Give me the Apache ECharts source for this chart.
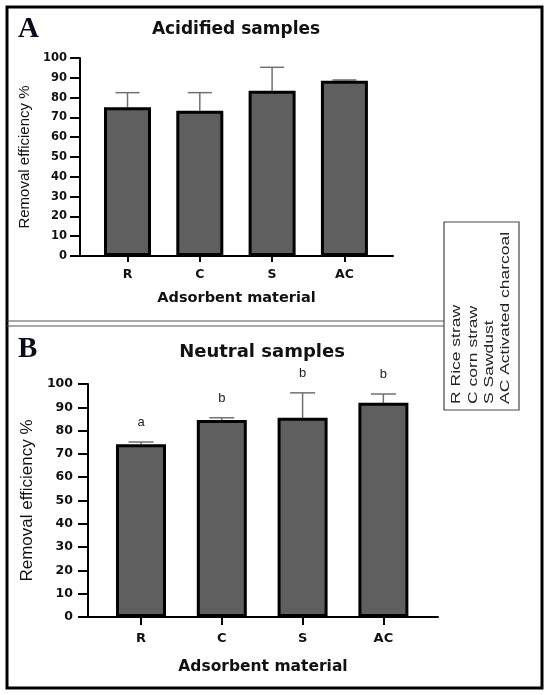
<!DOCTYPE html>
<html>
<head>
<meta charset="utf-8">
<script src="https://cdn.jsdelivr.net/npm/echarts@6/dist/echarts.min.js"></script>
<style>
html,body{margin:0;padding:0;background:#fff;}
#c{width:550px;height:695px;}
</style>
</head>
<body>
<div id="c"></div>
<script>
const categories = ['R', 'C', 'S', 'AC'];
const acidMeans = [75.1, 73.4, 83.5, 88.5];
const acidErrTop = [82.5, 82.5, 95.3, 88.9];
const neutralMeans = [74.1, 84.6, 85.5, 91.9];
const neutralErrTop = [75.1, 85.5, 96.2, 95.7];
const neutralLetters = ['a', 'b', 'b', 'b'];
const legendLines = ['R Rice straw', 'C corn straw', 'S Sawdust', 'AC Activated charcoal'];
const yMin = 0, yMax = 100, yStep = 10;

const FONT = 'Liberation Sans, Arial, sans-serif';
const BOLD = 'DejaVu Sans, Verdana, sans-serif';
const catIdx = categories.map((c, i) => i);

function errSeries(gridIdx, means, tops, letters, capW) {
  return {
    type: 'custom',
    xAxisIndex: gridIdx, yAxisIndex: gridIdx,
    z: 1,
    data: categories.map((c, i) => [i, means[i], tops[i], letters ? letters[i] : '']),
    encode: { x: 0, y: [1, 2] },
    renderItem: function (params, api) {
      const i = api.value(0);
      const b = api.coord([i, api.value(1)]);
      const t = api.coord([i, api.value(2)]);
      const children = [
        { type: 'line', shape: { x1: b[0], y1: b[1], x2: t[0], y2: t[1] }, style: { stroke: '#707070', lineWidth: 1.5 } },
        { type: 'line', shape: { x1: t[0] - capW / 2, y1: t[1], x2: t[0] + capW / 2, y2: t[1] }, style: { stroke: '#707070', lineWidth: 1.5 } }
      ];
      const lab = api.value(3);
      if (lab) {
        children.push({ type: 'text', x: t[0], y: t[1] - 13, style: { text: lab, fill: '#222', font: '13px ' + FONT, align: 'center', verticalAlign: 'bottom' } });
      }
      return { type: 'group', children: children };
    }
  };
}

function barSeries(gridIdx, means, w) {
  return {
    type: 'bar',
    xAxisIndex: gridIdx, yAxisIndex: gridIdx,
    barWidth: w,
    z: 2,
    data: categories.map((c, i) => [i, means[i]]),
    itemStyle: { color: '#5f5f5f', borderColor: '#000', borderWidth: 3 },
    silent: true
  };
}

function xAxisDef(gridIdx, min, max, fs, nfs, gap, tickLen, margin) {
  return {
    type: 'value', gridIndex: gridIdx, min: min, max: max,
    name: 'Adsorbent material', nameLocation: 'middle', nameGap: gap,
    nameTextStyle: { fontFamily: BOLD, fontWeight: 'bold', fontSize: nfs, color: '#111' },
    axisLine: { show: true, onZero: false, lineStyle: { color: '#000', width: 2 } },
    axisTick: { show: true, customValues: catIdx, length: tickLen, lineStyle: { color: '#000', width: 2 } },
    axisLabel: { customValues: catIdx, formatter: v => categories[Math.round(v)], margin: margin, fontFamily: BOLD, fontWeight: 'bold', fontSize: fs, color: '#111' },
    splitLine: { show: false }
  };
}

function yAxisDef(gridIdx, gap, nfs, fs, margin) {
  return {
    type: 'value', gridIndex: gridIdx, min: yMin, max: yMax, interval: yStep,
    name: 'Removal efficiency %', nameLocation: 'middle', nameGap: gap, nameRotate: 90,
    nameTextStyle: { fontFamily: FONT, fontSize: nfs, color: '#111' },
    axisLine: { show: true, onZero: false, lineStyle: { color: '#000', width: 2 } },
    axisTick: { show: true, length: 10, lineStyle: { color: '#000', width: 2 } },
    axisLabel: { margin: margin, fontFamily: BOLD, fontWeight: 'bold', fontSize: fs, color: '#111' },
    splitLine: { show: false }
  };
}

const option = {
  animation: false,
  backgroundColor: '#fff',
  grid: [
    { left: 80, width: 313, top: 58, height: 198 },
    { left: 88, width: 350, top: 384, height: 233 }
  ],
  xAxis: [
    xAxisDef(0, -0.657, 3.672, 12.5, 14.5, 35, 6, 12),
    xAxisDef(1, -0.656, 3.676, 13, 15.5, 42, 8, 15)
  ],
  yAxis: [
    yAxisDef(0, 47, 15, 11.5, 13),
    yAxisDef(1, 48, 17, 12.5, 15)
  ],
  series: [
    errSeries(0, acidMeans, acidErrTop, null, 24),
    barSeries(0, acidMeans, 47),
    errSeries(1, neutralMeans, neutralErrTop, neutralLetters, 25),
    barSeries(1, neutralMeans, 50)
  ],
  graphic: [
    { type: 'rect', shape: { x: 7, y: 7, width: 535, height: 681 }, style: { fill: 'none', stroke: '#000', lineWidth: 3 } },
    { type: 'line', shape: { x1: 7, y1: 321, x2: 444, y2: 321 }, style: { stroke: '#555', lineWidth: 1.2 } },
    { type: 'line', shape: { x1: 7, y1: 326, x2: 444, y2: 326 }, style: { stroke: '#555', lineWidth: 1.2 } },
    { type: 'rect', shape: { x: 444, y: 222, width: 75, height: 188 }, style: { fill: '#fff', stroke: '#444', lineWidth: 1.2 } },
    { type: 'text', x: 18, y: 44, style: { text: 'A', font: 'bold 29px Liberation Serif, Times New Roman, serif', fill: '#0a0a1a', verticalAlign: 'bottom' } },
    { type: 'text', x: 18, y: 364, style: { text: 'B', font: 'bold 29px Liberation Serif, Times New Roman, serif', fill: '#0a0a1a', verticalAlign: 'bottom' } },
    { type: 'text', x: 236, y: 30, style: { text: 'Acidified samples', font: 'bold 17px ' + BOLD, fill: '#111', align: 'center', verticalAlign: 'middle' } },
    { type: 'text', x: 262, y: 352, style: { text: 'Neutral samples', font: 'bold 18px ' + BOLD, fill: '#111', align: 'center', verticalAlign: 'middle' } }
  ].concat(legendLines.map((t, i) => ({
    type: 'text', x: 457 + i * 16.3, y: 404, rotation: Math.PI / 2, scaleX: 1.4,
    style: { text: t, font: '12.5px ' + FONT, fill: '#222', align: 'left', verticalAlign: 'middle' }
  })))
};

const chart = echarts.init(document.getElementById('c'), null, { renderer: 'canvas' });
chart.setOption(option);
</script>
</body>
</html>
